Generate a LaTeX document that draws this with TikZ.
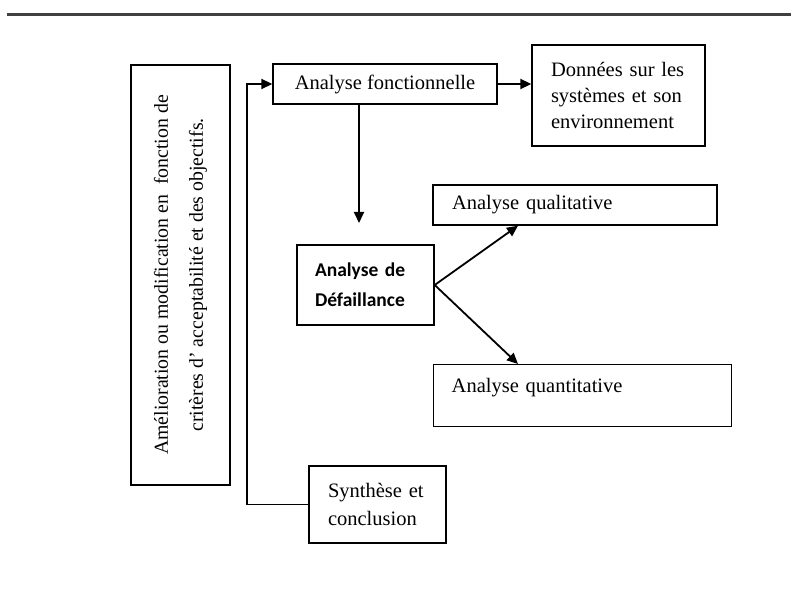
\documentclass[tikz,border=0pt]{standalone}
\usepackage{fontspec}
\setmainfont{Liberation Serif}
\newfontfamily\calibfont{Carlito}
\usetikzlibrary{arrows.meta}
\begin{document}
\begin{tikzpicture}[x=1pt,y=-1pt,
  box/.style={draw=black, line width=1.4pt, rectangle, inner ysep=0pt,
    font=\fontsize{20.5}{26}\selectfont},
  leftbox/.style={box, align=left},
  conn/.style={line width=1.8pt, -{Triangle[length=11pt,width=10pt]}},
  link/.style={line width=1.8pt},
]
\useasboundingbox (0,0) rectangle (791,601);
\fill[white] (0,0) rectangle (791,601);

% rule across the top of the page
\draw[line width=3pt, black!75] (7,14.5) -- (791,14.5);

% side note, set vertically
\node[box, rotate=90, minimum width=420, minimum height=99, align=center,
      font=\fontsize{19.8}{35}\selectfont] (amel) at (180.5,275)
  {Amélioration ou modification en\ \ fonction de\\critères d’ acceptabilité et des objectifs.};

% main steps
\node[box, minimum width=224, minimum height=40] (af) at (385,84) {Analyse fonctionnelle};
\node[leftbox, inner xsep=19pt, text width=135pt, minimum height=101] (don) at (618.5,95.5)
  {Données sur les\\systèmes et son\\environnement};
\node[leftbox, inner xsep=18pt, text width=101pt, minimum height=80,
      font=\calibfont\bfseries\fontsize{19.5}{30}\selectfont] (def) at (365.5,285)
  {Analyse de\\Défaillance};
\node[leftbox, inner xsep=19pt, text width=246pt, minimum height=40] (qual) at (575,205)
  {Analyse qualitative};
\node[leftbox, inner xsep=18pt, text width=262pt, text height=28pt, text depth=34pt,
      anchor=north west] (quant) at (433,364) {Analyse quantitative};
\node[leftbox, inner xsep=19pt, text width=99pt, minimum height=77,
      font=\fontsize{20.5}{28}\selectfont] (syn) at (377.5,504.5)
  {Synthèse et\\conclusion};

% reference points for the connectors
\coordinate (dtip) at (359,223);
\coordinate (branchx) at (518,0);
\coordinate (loopx) at (247,0);

% connectors
\draw[conn] (af.east) -- (af.east -| don.west);
\draw[conn] (af.south -| dtip) -- (dtip);
\draw[conn] (def.east) -- (qual.south -| branchx);
\draw[conn] (def.east) -- (quant.north -| branchx);
\draw[conn] (syn.west) -- (syn.west -| loopx) |- (af.west);
\end{tikzpicture}
\end{document}
